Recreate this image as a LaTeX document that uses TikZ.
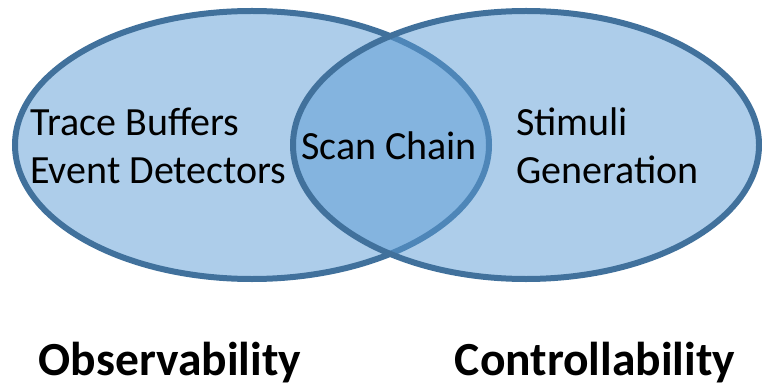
\documentclass[tikz,border=0pt]{standalone}
\usepackage{fontspec}
\setmainfont{Carlito}
\usepackage{tikz}
\usetikzlibrary{shapes,positioning}
\definecolor{vennfill}{RGB}{91,155,213}
\definecolor{vennline}{RGB}{65,113,156}

\tikzset{
    setbox/.style={ellipse, draw=vennline, line width=6pt, fill=vennfill, fill opacity=0.5,
        minimum width=474pt, minimum height=268pt, inner sep=0pt},
    itemtext/.style={font=\fontsize{40}{48}\selectfont, align=left, inner sep=0pt},
    settitle/.style={font=\fontsize{47.5}{57}\selectfont\bfseries, inner sep=0pt, anchor=base}
}

\begin{document}
\begin{tikzpicture}[x=1pt,y=1pt]
        \useasboundingbox (0,0) rectangle (762,386);
        % the two sets
        \node[setbox] (obs) at (252,241) {};
        \node[setbox, minimum width=466pt] (ctrl) at (526,241) {};
        % contents
        \node[itemtext, anchor=west] (trace) at (30,240) {Trace Buffers\\Event Detectors};
        \node[itemtext] (scan) at (389,240) {Scan Chain};
        \node[itemtext, anchor=west] (stim) at (516,240) {Stimuli\\Generation};
        % set names
        \node[settitle] (obsname) at (170,11) {Observability};
        \node[settitle] (ctrlname) at (595,11) {Controllability};
    \end{tikzpicture}
\end{document}
